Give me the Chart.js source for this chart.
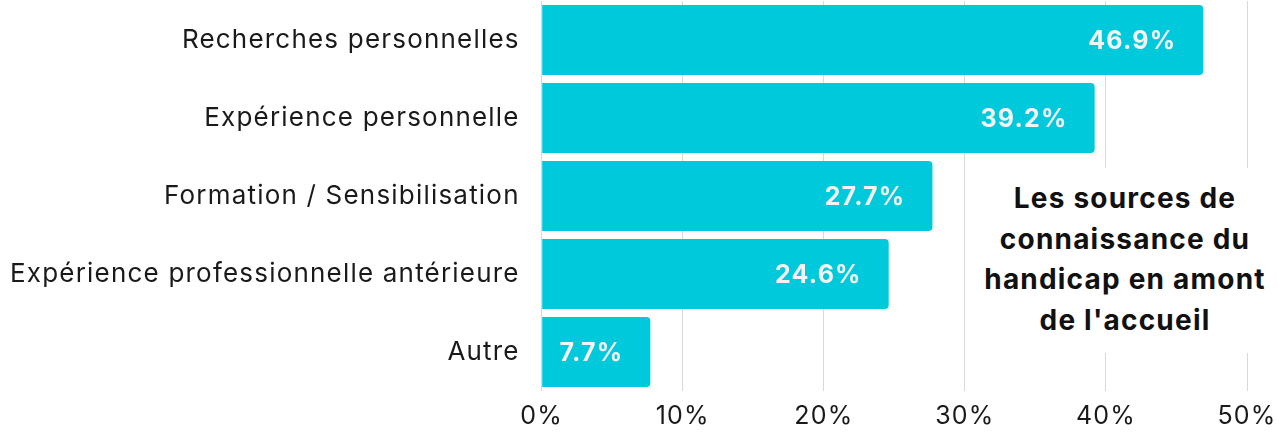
<!DOCTYPE html>
<html>
<head>
<meta charset="utf-8">
<script src="https://cdn.jsdelivr.net/npm/chart.js@4/dist/chart.umd.min.js"></script>
<style>
  html, body { margin: 0; padding: 0; background: #fff; }
  #wrap { position: relative; width: 1277px; height: 434px; }
  canvas { display: block; }
  #title {
    position: absolute; left: 978px; top: 168px; width: 294px; height: 185px;
    background: #fff; font-family: Inter, "Open Sans", sans-serif; font-weight: 700;
    font-size: 28px; letter-spacing: 1.2px; line-height: 40.5px; text-align: center; color: #111;
    padding-top: 10px; box-sizing: border-box;
  }
</style>
</head>
<body>
<div id="wrap">
  <canvas id="barChart" width="1277" height="434"></canvas>
  <div id="title">Les sources de<br>connaissance du<br>handicap en amont<br>de l'accueil</div>
</div>
<script>
// Données du graphique
const categories = [
  "Recherches personnelles",
  "Expérience personnelle",
  "Formation / Sensibilisation",
  "Expérience professionnelle antérieure",
  "Autre",
];
const values = [46.9, 39.2, 27.7, 24.6, 7.7];
const xTicks = [0, 10, 20, 30, 40, 50];

const fontFamily = "Inter, 'Open Sans', sans-serif";

// Espacement des lettres (police plus large dans l'original)
const letterSpacing = {
  id: "letterSpacing",
  beforeUpdate(chart) {
    chart.ctx.letterSpacing = "1.2px";
  },
  beforeDraw(chart) {
    chart.ctx.letterSpacing = "1.2px";
  },
};

// Plugin pour les étiquettes dans les barres
const barLabels = {
  id: "barLabels",
  afterDatasetsDraw(chart) {
    const ctx = chart.ctx;
    const meta = chart.getDatasetMeta(0);
    ctx.save();
    ctx.font = "bold 25px " + fontFamily;
    ctx.fillStyle = "#f4f4f4";
    ctx.textAlign = "right";
    ctx.textBaseline = "middle";
    meta.data.forEach((bar, i) => {
      ctx.fillText(values[i].toFixed(1) + "%", bar.x - 27, bar.y + 1);
    });
    ctx.restore();
  },
};

const barChart = new Chart(document.getElementById("barChart"), {
  type: "bar",
  data: {
    labels: categories,
    datasets: [
      {
        data: values,
        backgroundColor: "#00c9db",
        borderRadius: { topRight: 4, bottomRight: 4 },
        borderSkipped: false,
        categoryPercentage: 0.9,
        barPercentage: 1,
      },
    ],
  },
  options: {
    indexAxis: "y",
    responsive: false,
    animation: false,
    layout: { padding: { top: 1, right: 30, left: -12, bottom: -7 } },
    plugins: { legend: { display: false }, tooltip: { enabled: false } },
    scales: {
      x: {
        min: 0,
        max: 50,
        afterBuildTicks: (axis) => {
          axis.ticks = xTicks.map((v) => ({ value: v }));
        },
        afterFit: (scale) => {
          scale.paddingLeft = 0;
          scale.paddingRight = 0;
        },
        ticks: {
          callback: (v) => v + "%",
          color: "#1a1a1a",
          font: { family: fontFamily, size: 25 },
          padding: 10,
        },
        grid: { color: "#d9d9d9", drawTicks: false },
        border: { display: false },
      },
      y: {
        ticks: {
          color: "#1a1a1a",
          font: { family: fontFamily, size: 26 },
          padding: 22,
        },
        grid: { display: false, drawTicks: false },
        border: { display: false },
        afterFit: (scale) => {
          scale.paddingTop = 0;
          scale.paddingBottom = 0;
        },
      },
    },
  },
  plugins: [letterSpacing, barLabels],
});
</script>
</body>
</html>
